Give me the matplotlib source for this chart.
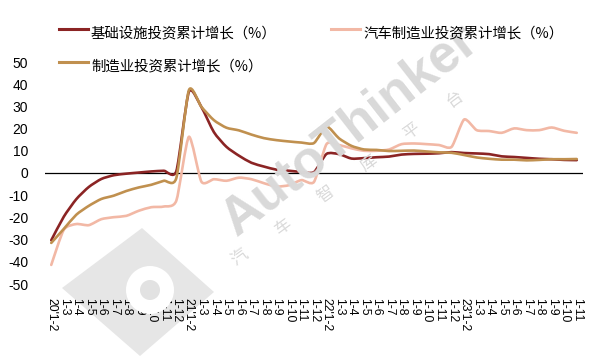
import matplotlib
matplotlib.use("Agg")
import matplotlib.pyplot as plt
import numpy as np
from matplotlib.path import Path
from matplotlib.patches import PathPatch, Polygon, Circle
from matplotlib.lines import Line2D
from matplotlib.transforms import IdentityTransform

plt.rcParams['font.family'] = ['Liberation Sans', 'Noto Sans CJK SC', 'DejaVu Sans']

# ---------------- data ----------------
labels = (["20'1-2"] + [f"1-{m}" for m in range(3, 13)] +
          ["21'1-2"] + [f"1-{m}" for m in range(3, 13)] +
          ["22'1-2"] + [f"1-{m}" for m in range(3, 13)] +
          ["23'1-2"] + [f"1-{m}" for m in range(3, 12)])

infra = [-30.3, -19.7, -11.8, -6.3, -2.7, -1.0, -0.3, 0.2, 0.7, 1.0, 0.9,
         36.6, 29.7, 18.4, 11.8, 7.8, 4.6, 2.9, 1.5, 1.0, 0.5, 0.4,
         8.6, 8.5, 6.5, 6.7, 7.1, 7.4, 8.3, 8.6, 8.7, 8.9, 9.4,
         9.0, 8.8, 8.5, 7.5, 7.2, 6.8, 6.4, 6.2, 5.9, 5.8]

auto_mfg = [-41.4, -25.6, -23.0, -23.5, -20.8, -19.9, -19.3, -17.0, -15.4, -15.1, -12.4,
            16.3, -3.9, -2.8, -3.5, -2.1, -2.8, -4.6, -6.1, -5.5, -3.2, -4.0,
            13.0, 12.6, 11.1, 10.0, 10.0, 10.6, 13.0, 13.3, 13.0, 12.6, 11.8,
            24.1, 19.3, 18.9, 18.1, 20.1, 19.3, 19.3, 20.5, 19.0, 18.1]

mfg = [-31.5, -25.2, -18.8, -14.8, -11.7, -10.2, -8.1, -6.5, -5.3, -3.5, -2.2,
       37.3, 29.8, 23.8, 20.4, 19.2, 17.3, 15.7, 14.8, 14.2, 13.7, 13.5,
       20.9, 15.6, 12.2, 10.6, 10.4, 9.9, 10.0, 10.1, 9.7, 9.3, 9.1,
       8.1, 7.0, 6.4, 6.0, 6.0, 5.7, 5.9, 6.2, 6.2, 6.3]

series_names = ["基础设施投资累计增长（%）", "汽车制造业投资累计增长（%）", "制造业投资累计增长（%）"]
colors = ["#8B2424", "#F2B8A5", "#C0904F"]

W, H = 594, 356
fig = plt.figure(figsize=(W / 100, H / 100), dpi=100)


def fx(px):
    return px / W


def fy(py):
    return 1 - py / H


ax = fig.add_axes([fx(45), fy(284), fx(583) - fx(45), fy(62) - fy(284)])

# ---------------- watermark ----------------
wm_color = "#d9d9d9"
fig.add_artist(Polygon([(fx(142), fy(228)), (fx(214), fy(292)), (fx(140), fy(356)), (fx(62), fy(288))],
                       closed=True, transform=fig.transFigure, facecolor="#e6e6e6",
                       edgecolor="none", zorder=0))
fig.add_artist(Circle((150, H - 290), 24, transform=IdentityTransform(),
                      facecolor="white", edgecolor="none", zorder=0.1))
fig.add_artist(Circle((150, H - 290), 10, transform=IdentityTransform(),
                      facecolor="#e2e2e2", edgecolor="none", zorder=0.2))
fig.text(fx(350), fy(130), "AutoThinker", rotation=38, fontsize=38, fontweight="bold",
         color=wm_color, ha="center", va="center", family=["Liberation Sans"], zorder=0)
chars = "汽车智库平台"
start = np.array([240.0, 258.0])
step = np.array([43.0, -31.6])
for k, ch in enumerate(chars):
    p = start + k * step
    fig.text(fx(p[0]), fy(p[1]), ch, rotation=36, fontsize=12, color=wm_color,
             ha="center", va="center", family=["Noto Sans CJK SC"], zorder=0)

ax.patch.set_alpha(0)


# ---------------- smooth lines ----------------
def smooth_path(xs, ys, k=1.0 / 9.0):
    pts = np.column_stack([xs, ys]).astype(float)
    n = len(pts)
    verts = [tuple(pts[0])]
    codes = [Path.MOVETO]
    for i in range(n - 1):
        p0 = pts[i - 1] if i > 0 else pts[i]
        p1 = pts[i]
        p2 = pts[i + 1]
        p3 = pts[i + 2] if i + 2 < n else pts[i + 1]
        c1 = p1 + (p2 - p0) * k
        c2 = p2 - (p3 - p1) * k
        verts += [tuple(c1), tuple(c2), tuple(p2)]
        codes += [Path.CURVE4] * 3
    return Path(verts, codes)


x = np.arange(len(labels))
for vals, col in zip([infra, auto_mfg, mfg], colors):
    patch = PathPatch(smooth_path(x, vals), facecolor="none", edgecolor=col,
                      lw=1.9, capstyle="round", joinstyle="round", zorder=3)
    ax.add_patch(patch)

ax.axhline(0, color="black", lw=0.9, zorder=2)

ax.set_xlim(-0.5, len(labels) - 0.5)
ax.set_ylim(-50, 50)
ax.set_yticks(range(-50, 51, 10))
ax.set_yticklabels([str(v) for v in range(-50, 51, 10)], fontsize=10)
ax.set_xticks(x)
ax.set_xticklabels(labels, rotation=270, fontsize=8.8)
ax.tick_params(axis="y", length=0, pad=12)
ax.tick_params(axis="x", length=0, pad=10)
for s in ax.spines.values():
    s.set_visible(False)

# ---------------- legend ----------------
legend_pos = [(59, 29), (331, 29), (59, 62)]
for name, col, (lx, ly) in zip(series_names, colors, legend_pos):
    fig.add_artist(Line2D([fx(lx), fx(lx + 29)], [fy(ly), fy(ly)], transform=fig.transFigure,
                          color=col, lw=2.2))
    fig.text(fx(lx + 32), fy(ly + 4), name, fontsize=10.4, ha="left", va="center",
             family=["Noto Sans CJK SC", "DejaVu Sans"])

fig.savefig("out.png", dpi=100)
